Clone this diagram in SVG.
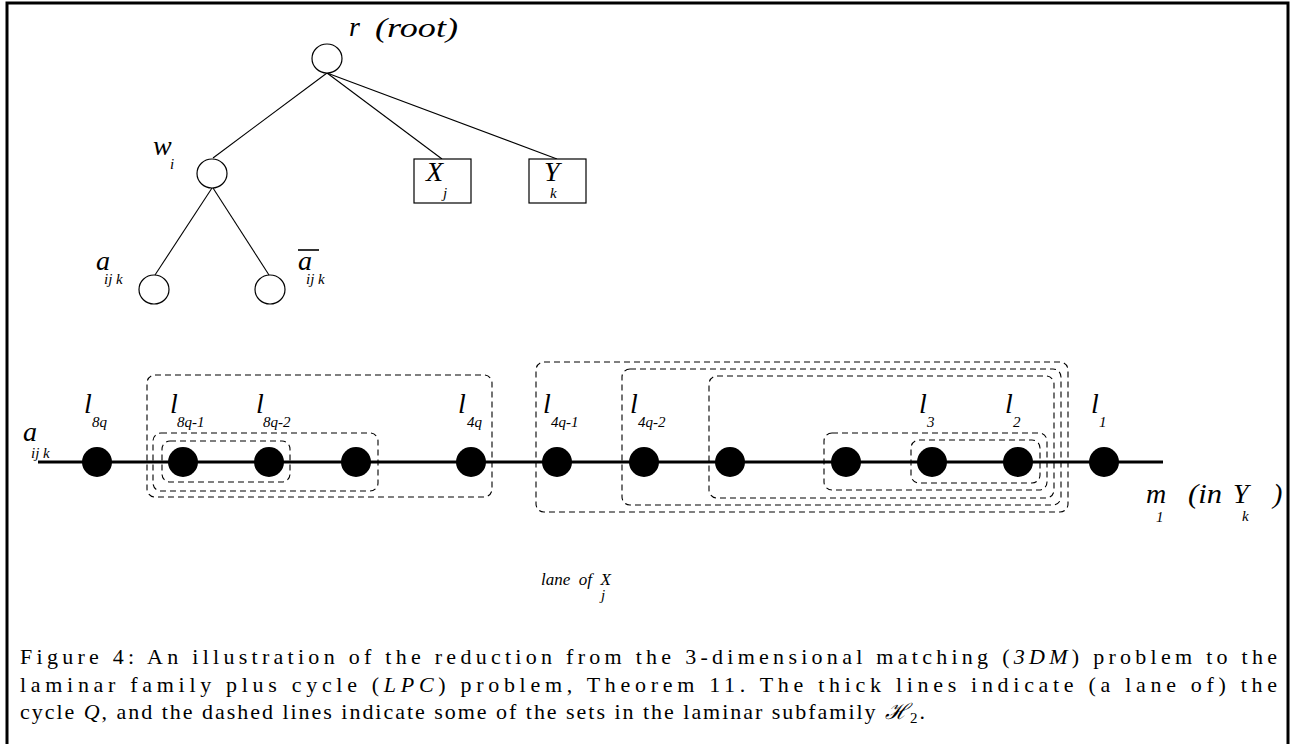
<svg xmlns="http://www.w3.org/2000/svg" width="1294" height="744" viewBox="0 0 1294 744">
<style>
.lbl{font-family:"Liberation Serif","Times New Roman",serif;font-style:italic;font-size:28px;fill:#000}
.sub{font-family:"Liberation Serif","Times New Roman",serif;font-style:italic;font-size:15px;fill:#000}
.small{font-family:"Liberation Serif","Times New Roman",serif;font-style:italic;font-size:17px;fill:#000}
.node{fill:#fff;stroke:#000;stroke-width:1.2}
.edge{stroke:#000;stroke-width:1.1;fill:none}
.dot{fill:#000}
.set{fill:none;stroke:#000;stroke-width:1.1;stroke-dasharray:6 4}
.cap{font-family:"Liberation Serif","Times New Roman",serif;font-size:22px;fill:#000}
</style>
<rect x="0" y="0" width="1294" height="744" fill="#fff"/>
<rect x="7" y="3" width="1281" height="780" fill="none" stroke="#000" stroke-width="3"/>

<g id="connectors">
<line class="edge" x1="327" y1="73" x2="213" y2="158"/>
<line class="edge" x1="327" y1="73" x2="442" y2="159"/>
<line class="edge" x1="327" y1="73" x2="557" y2="159"/>
<line class="edge" x1="212" y1="188" x2="155" y2="275"/>
<line class="edge" x1="213" y1="188" x2="269" y2="275"/>
<line x1="38" y1="462" x2="1163" y2="462" stroke="#000" stroke-width="3"/>
</g>

<g id="root">
<ellipse class="node" cx="327" cy="58.5" rx="15" ry="14.5"/>
<text class="lbl" x="349" y="36">r</text>
<text class="lbl" x="375" y="37" textLength="83" lengthAdjust="spacingAndGlyphs">(root)</text>
</g>
<g id="w_i">
<ellipse class="node" cx="212" cy="173.5" rx="15" ry="14.5"/>
<text class="lbl" x="153" y="155">w</text>
<text class="sub" x="170" y="169">i</text>
</g>
<g id="X_j">
<rect class="node" x="414" y="159" width="57" height="44"/>
<text class="lbl" x="426" y="181">X</text>
<text class="sub" x="443" y="198">j</text>
</g>
<g id="Y_k">
<rect class="node" x="529" y="159" width="57" height="44"/>
<text class="lbl" x="544" y="181">Y</text>
<text class="sub" x="550" y="198">k</text>
</g>
<g id="a_ijk">
<ellipse class="node" cx="154" cy="289.5" rx="15" ry="14.5"/>
<text class="lbl" x="96" y="270">a</text>
<text class="sub" x="104" y="284">ij k</text>
</g>
<g id="abar_ijk">
<ellipse class="node" cx="270" cy="289.5" rx="15" ry="14.5"/>
<text class="lbl" x="298" y="270">a</text>
<line x1="298" y1="250" x2="319" y2="250" stroke="#000" stroke-width="1.6"/>
<text class="sub" x="306" y="284">ij k</text>
</g>

<g id="sets">
<rect class="set" x="147" y="375" width="345" height="122" rx="8"/>
<rect class="set" x="153" y="433" width="225" height="58" rx="8"/>
<rect class="set" x="162" y="441" width="128" height="41" rx="8"/>
<rect class="set" x="536" y="362" width="532" height="150" rx="8"/>
<rect class="set" x="622" y="369" width="439" height="136" rx="8"/>
<rect class="set" x="709" y="376" width="345" height="122" rx="8"/>
<rect class="set" x="824" y="433" width="223" height="57" rx="8"/>
<rect class="set" x="911" y="440" width="129" height="43" rx="8"/>
</g>

<g id="lane">
<text class="lbl" x="23" y="441">a</text>
<text class="sub" x="31" y="458">ij k</text>
<g id="l8q"><circle class="dot" cx="97" cy="462" r="15"/><text class="lbl" x="84" y="413">l</text><text class="sub" x="92" y="427">8q</text></g>
<g id="l8q-1"><circle class="dot" cx="183" cy="462" r="15"/><text class="lbl" x="170" y="413">l</text><text class="sub" x="177" y="427">8q-1</text></g>
<g id="l8q-2"><circle class="dot" cx="269" cy="462" r="15"/><text class="lbl" x="256" y="413">l</text><text class="sub" x="263" y="427">8q-2</text></g>
<g id="n4"><circle class="dot" cx="356" cy="462" r="15"/></g>
<g id="l4q"><circle class="dot" cx="471" cy="462" r="15"/><text class="lbl" x="458" y="413">l</text><text class="sub" x="467" y="427">4q</text></g>
<g id="l4q-1"><circle class="dot" cx="557" cy="462" r="15"/><text class="lbl" x="543" y="413">l</text><text class="sub" x="551" y="427">4q-1</text></g>
<g id="l4q-2"><circle class="dot" cx="644" cy="462" r="15"/><text class="lbl" x="630" y="413">l</text><text class="sub" x="638" y="427">4q-2</text></g>
<g id="n8"><circle class="dot" cx="730" cy="462" r="15"/></g>
<g id="n9"><circle class="dot" cx="846" cy="462" r="15"/></g>
<g id="l3"><circle class="dot" cx="932" cy="462" r="15"/><text class="lbl" x="919" y="413">l</text><text class="sub" x="927" y="427">3</text></g>
<g id="l2"><circle class="dot" cx="1018" cy="462" r="15"/><text class="lbl" x="1005" y="413">l</text><text class="sub" x="1013" y="427">2</text></g>
<g id="l1"><circle class="dot" cx="1104" cy="462" r="15"/><text class="lbl" x="1091" y="413">l</text><text class="sub" x="1099" y="427">1</text></g>
<text class="lbl" x="1146" y="503">m</text>
<text class="sub" x="1156" y="522">1</text>
<text class="lbl" x="1188" y="503" textLength="34" lengthAdjust="spacingAndGlyphs">(in</text>
<text class="lbl" x="1233" y="503">Y</text>
<text class="sub" x="1242" y="521">k</text>
<text class="lbl" x="1273" y="503">)</text>
<text class="small" x="541" y="585" xml:space="preserve">lane  of  X</text>
<text class="sub" x="601" y="600" font-size="13">j</text>
</g>

<g id="caption">
<text class="cap" x="20" y="664" textLength="1257" lengthAdjust="spacing">Figure 4: An illustration of the reduction from the 3-dimensional matching (<tspan font-style="italic">3DM</tspan>) problem to the</text>
<text class="cap" x="20" y="692" textLength="1257" lengthAdjust="spacing">laminar family plus cycle (<tspan font-style="italic">LPC</tspan>) problem, Theorem 11.  The thick lines indicate (a lane of) the</text>
<text class="cap" x="20" y="719" textLength="905" lengthAdjust="spacing">cycle <tspan font-style="italic">Q</tspan>, and the dashed lines indicate some of the sets in the laminar subfamily <tspan font-style="italic">ℋ</tspan><tspan font-size="15" dy="4">2</tspan><tspan dy="-4">.</tspan></text>
</g>
</svg>
